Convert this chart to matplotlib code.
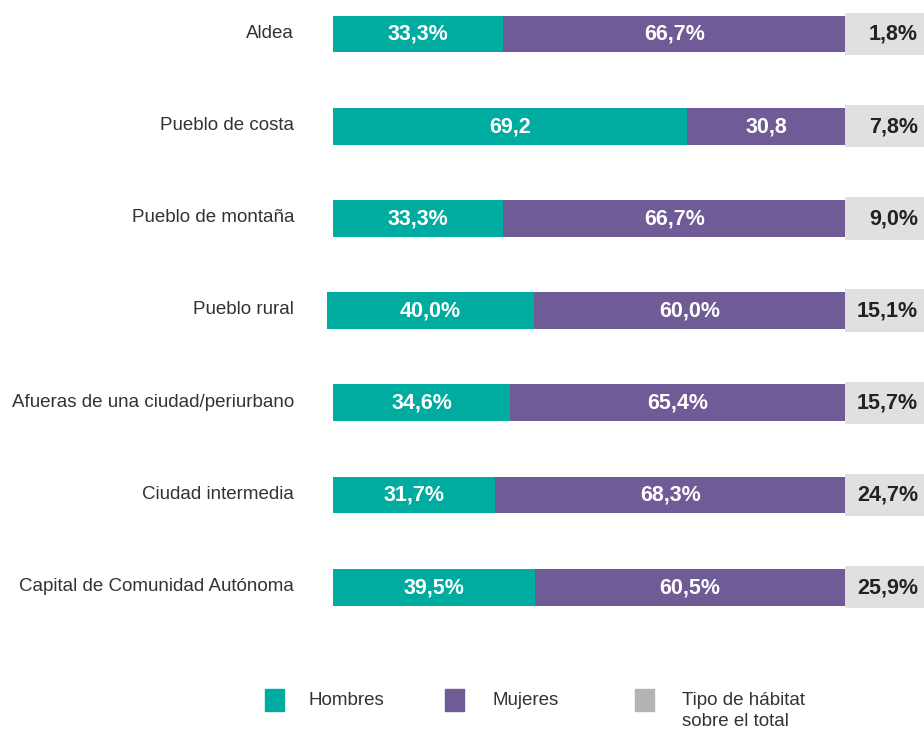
import numpy as np
import matplotlib.pyplot as plt
from matplotlib.patches import Rectangle

plt.rcParams['font.family'] = ['Liberation Sans', 'DejaVu Sans']

categorias = ['Aldea', 'Pueblo de costa', 'Pueblo de montaña', 'Pueblo rural',
              'Afueras de una ciudad/periurbano', 'Ciudad intermedia',
              'Capital de Comunidad Autónoma']
hombres = [33.3, 69.2, 33.3, 40.0, 34.6, 31.7, 39.5]
mujeres = [66.7, 30.8, 66.7, 60.0, 65.4, 68.3, 60.5]
etiq_h = ['33,3%', '69,2', '33,3%', '40,0%', '34,6%', '31,7%', '39,5%']
etiq_m = ['66,7%', '30,8', '66,7%', '60,0%', '65,4%', '68,3%', '60,5%']
total = ['1,8%', '7,8%', '9,0%', '15,1%', '15,7%', '24,7%', '25,9%']
# la barra de "Pueblo rural" empieza un poco antes en el original
inicio = [0, 0, 0, -1.2, 0, 0, 0]

c_h = '#00ac9f'
c_m = '#6f5b96'
c_tot = '#e0e0e0'
c_ley = '#b3b3b3'
c_txt = '#333333'

W, H = 924, 729
fig = plt.figure(figsize=(W / 100, H / 100), dpi=100)
x0, x1 = 333, 924
ax = fig.add_axes([x0 / W, 0, (x1 - x0) / W, 1])
ppu = 512 / 100.0
ax.set_xlim(0, (x1 - x0) / ppu)
paso = 92.2
ax.set_ylim((H - 34) / paso, -34 / paso)

y = np.arange(len(categorias))
for i in y:
    esc = (100 - inicio[i]) / 100.0
    wh = hombres[i] * esc
    wm = mujeres[i] * esc
    ax.barh(i, wh, left=inicio[i], height=0.40, color=c_h, clip_on=False)
    ax.barh(i, wm, left=inicio[i] + wh, height=0.40, color=c_m)
    ax.barh(i, ax.get_xlim()[1] - 100, left=100, height=0.46, color=c_tot)
    yt = i + 0.005
    ax.text(inicio[i] + wh / 2, yt, etiq_h[i], ha='center', va='center',
            color='white', fontsize=15.5, fontweight='bold')
    ax.text(inicio[i] + wh + wm / 2, yt, etiq_m[i], ha='center', va='center',
            color='white', fontsize=15.5, fontweight='bold')
    ax.text(100 + (918 - 845) / ppu, yt, total[i], ha='right', va='center',
            color='#222222', fontsize=15.5, fontweight='bold')

ax.set_yticks(y - 0.03)
ax.set_yticklabels(categorias, fontsize=13.5, color=c_txt)
ax.tick_params(axis='y', length=0, pad=28)
ax.set_xticks([])
for s in ax.spines.values():
    s.set_visible(False)

# leyenda
ley = [('Hombres', c_h, 265, 308), ('Mujeres', c_m, 445, 493),
       ('Tipo de hábitat\nsobre el total', c_ley, 635, 682)]
for txt, col, xs, xt in ley:
    fig.patches.append(Rectangle((xs / W, 1 - 711 / H), 19 / W, 22 / H,
                                 transform=fig.transFigure, color=col))
    fig.text(xt / W, 1 - 692 / H, txt, ha='left', va='top', fontsize=13.5,
             color=c_txt, linespacing=1.3)

fig.savefig('out.png', dpi=100)
